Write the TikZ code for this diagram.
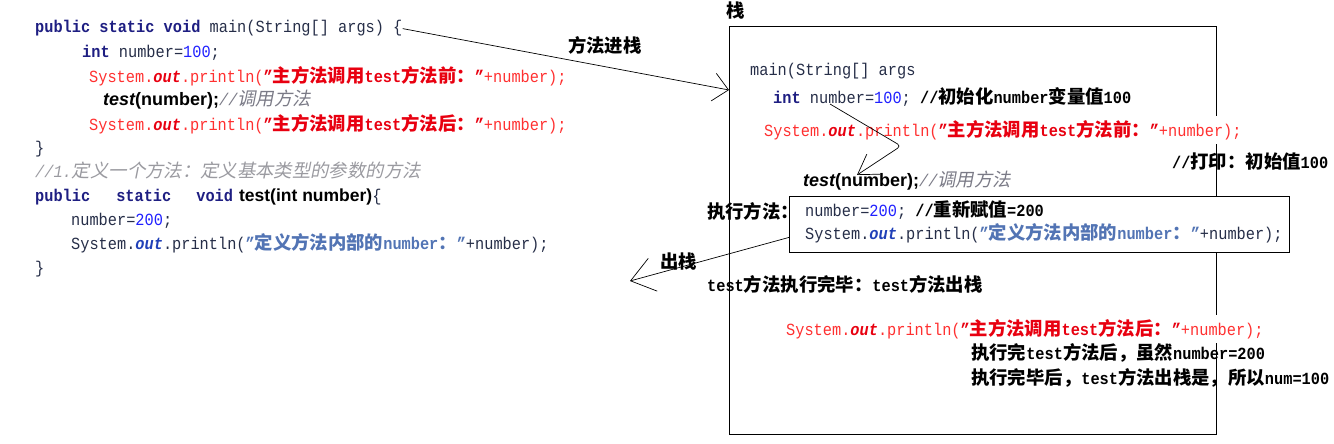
\documentclass[tikz,border=0pt]{standalone}
\usepackage{fontspec}
\usetikzlibrary{arrows.meta}
\setmainfont{Liberation Mono}[FakeStretch=0.9]
\newfontfamily\cjk[Scale=1.08]{Noto Sans CJK SC}
\newfontfamily\cjkit[Scale=1.08,FakeSlant=0.2]{Noto Sans CJK SC}
\newfontfamily\arialf{Liberation Sans}
\newcommand\zh[1]{{\cjk #1}}
\newcommand\zhi[1]{{\cjkit #1}}
\newcommand\arb{\arialf\fontsize{18}{20}\selectfont\bfseries}
\definecolor{kw}{HTML}{1E1E82}
\definecolor{dflt}{HTML}{262E48}
\definecolor{num}{HTML}{2020FF}
\definecolor{redA}{HTML}{FF3030}
\definecolor{redB}{HTML}{E80010}
\definecolor{cmt}{HTML}{7A7A86}
\definecolor{cmtB}{HTML}{9A9AA0}
\definecolor{fld}{HTML}{2040B8}
\definecolor{strB}{HTML}{5274B4}
\newcommand\redline[1]{{\color{redA}System.{\bfseries\itshape\color{redB}out}.println({\bfseries\color{redB}"\zh{主方法调用}test\zh{#1}"}+number);}}
\newcommand\blueline{{\color{dflt}System.{\bfseries\itshape\color{fld}out}.println({\bfseries\color{strB}"\zh{定义方法内部的}number\zh{：}"}+number);}}
\newcommand\callline{{\arb\color{black}{\itshape test}(number);}{\color{cmt}\itshape //\zhi{调用方法}}}
\tikzset{
  code/.style={anchor=base west, inner sep=0pt, font=\fontsize{17}{20}\selectfont, text=dflt},
  lbl/.style={anchor=base west, inner sep=0pt, font=\fontsize{17}{20}\selectfont\bfseries, text=black},
  cover/.style={fill=white, inner ysep=4pt, inner xsep=0pt},
  box/.style={draw, line width=0.8pt, anchor=north west, inner sep=0pt},
  arrA/.style={draw, line width=0.7pt, -{Straight Barb[length=15pt,width=28pt,line width=0.7pt]}},
  arrB/.style={draw, line width=0.7pt, rounded corners=4pt, -{Straight Barb[length=19pt,width=24pt,line width=0.7pt]}},
  arrC/.style={draw, line width=0.7pt, -{Straight Barb[length=23pt,width=34pt,line width=0.7pt]}}
}
\begin{document}
\begin{tikzpicture}[x=1pt,y=-1pt]
\useasboundingbox (0,0) rectangle (1334,444);
% left code
\node[code] (l1) at (35,33) {{\bfseries\color{kw}public static void} main(String[] args) \{};
\node[code] (l2) at (82,58) {{\bfseries\color{kw}int} number={\color{num}100};};
\node[code] (l3) at (89,82) {\redline{方法前：}};
\node[code] (l4) at (103,106) {\callline};
\node[code] (l5) at (89,130) {\redline{方法后：}};
\node[code] (l6) at (35,153) {\}};
\node[code] (l7) at (35,177) {{\color{cmtB}\itshape //1.\zhi{定义一个方法：定义基本类型的参数的方法}}};
\node[code] (l8) at (35,201) {{\bfseries\color{kw}public\hspace{26pt}static\hspace{25pt}void}\hspace{6pt}{\arialf\fontsize{17.5}{20}\selectfont\bfseries\color{black}test(int number)}\{};
\node[code] (l9) at (71,225) {number={\color{num}200};};
\node[code] (l10) at (71,249) {\blueline};
\node[code] (l11) at (35,273) {\}};
% stack
\node[lbl] (title) at (726,18) {\zh{栈}};
\node[box, minimum width=487pt, minimum height=408pt] (stack) at (729,26) {};
\node[code] (r1) at (750,76) {main(String[] args};
\node[code] (r2) at (773,103) {{\bfseries\color{kw}int} number={\color{num}100}; {\bfseries\color{black}//\zh{初始化}number\zh{变量值}100}};
\node[code, cover] (r3) at (764,136) {\redline{方法前：}};
\node[lbl] (r4) at (1172,168) {//\zh{打印：初始值}100};
\node[code] (r5) at (803,186) {\callline};
\node[box, fill=white, minimum width=500pt, minimum height=56pt] (inner) at (789,196) {};
\node[lbl] (r6) at (707,218) {\zh{执行方法：}};
\node[code] (r7) at (805,216) {number={\color{num}200}; {\bfseries\color{black}//\zh{重新赋值}=200}};
\node[code] (r8) at (805,239) {\blueline};
\node[lbl] (r9) at (660,268) {\zh{出栈}};
\node[lbl] (r10) at (707,291) {test\zh{方法执行完毕：}test\zh{方法出栈}};
\node[code, cover] (r11) at (786,335) {\redline{方法后：}};
\node[lbl] (r12) at (971,359) {\zh{执行完}test\zh{方法后，虽然}number=200};
\node[lbl] (r13) at (971,384) {\zh{执行完毕后，}test\zh{方法出栈是，所以}num=100};
\node[lbl] (push) at (568,53) {\zh{方法进栈}};
% connectors
\coordinate (enterPt) at (729,90);
\coordinate (numPt) at (830,104);
\coordinate (bendPt) at (901,146);
\coordinate (callPt) at (857,175);
\coordinate (leavePt) at ([yshift=-13pt]inner.west);
\coordinate (outPt) at (630,281);
\draw[arrA] (l1.east) -- (enterPt);
\draw[arrB] (numPt) -- (bendPt) -- (callPt);
\draw[arrC] (leavePt) -- (outPt);
\end{tikzpicture}
\end{document}
